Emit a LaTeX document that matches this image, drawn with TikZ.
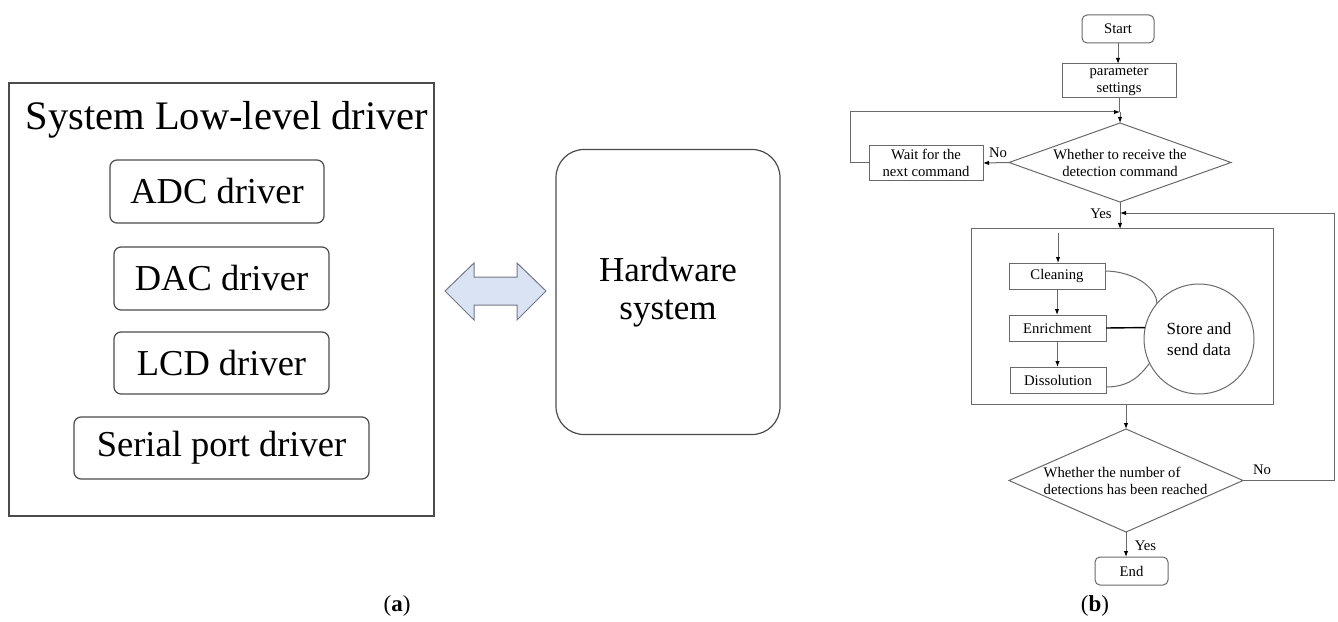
\documentclass[tikz,border=0pt]{standalone}
\usepackage{fontspec}
\setmainfont{Liberation Serif}
\usetikzlibrary{arrows.meta,shapes.geometric,calc}
\definecolor{lnA}{RGB}{75,75,75}
\definecolor{lnB}{RGB}{105,105,105}
\definecolor{arrfill}{RGB}{218,227,243}
\definecolor{arrdraw}{RGB}{115,120,135}
\begin{document}
\begin{tikzpicture}[x=1bp,y=-1bp,
  drvbox/.style={draw=lnA, line width=1.2bp, rounded corners=7bp, inner sep=0, outer sep=0,
                 font=\fontsize{36.5bp}{40bp}\selectfont},
  fbox/.style={draw=lnB, line width=1bp, inner sep=0, outer sep=0, align=center,
               font=\fontsize{14.7bp}{17bp}\selectfont},
  fround/.style={fbox, rounded corners=5bp},
  fdia/.style={draw=lnB, line width=1bp, diamond, inner sep=0, outer sep=0},
  flabel/.style={inner sep=0, font=\fontsize{14.7bp}{17bp}\selectfont},
  fline/.style={draw=lnB, line width=1bp},
  farrow/.style={fline, -{Latex[length=6bp,width=4.5bp,color=black]}},
  caption/.style={inner sep=0, font=\fontsize{23bp}{25bp}\selectfont}
]
\useasboundingbox (0,0) rectangle (1338,622);

% ---------------- panel (a) ----------------
\node[draw=lnA, line width=1.4bp, minimum width=425bp, minimum height=433bp, inner sep=0] (sysbox) at (221.5,299.5) {};
\node[anchor=base, inner sep=0, font=\fontsize{40.5bp}{44bp}\selectfont] (systitle) at (227,130) {System Low-level driver};
\node[drvbox, minimum width=214bp, minimum height=63bp] (adc) at (217,191.5) {ADC driver};
\node[drvbox, minimum width=215bp, minimum height=63bp] (dac) at (221.5,278.5) {DAC driver};
\node[drvbox, minimum width=215bp, minimum height=62bp] (lcd) at (221.5,363) {LCD driver};
\node[drvbox, minimum width=295bp, minimum height=62bp] (ser) at (221.5,448) {Serial port driver};

\node[draw=lnA, line width=1.2bp, rounded corners=28bp, minimum width=224bp, minimum height=285bp,
      align=center, inner sep=0, font=\fontsize{35bp}{38bp}\selectfont] (hw) at (668,292) {Hardware\\system};

\draw[draw=arrdraw, fill=arrfill, line width=1bp, line join=miter]
  (445,291) -- (474,263) -- (474,277) -- (517,277) -- (517,263) -- (546,291)
  -- (517,320) -- (517,305) -- (474,305) -- (474,320) -- cycle;

\node[caption] (capa) at (397,606) {(\textbf{a})};

% ---------------- panel (b) ----------------
\node[fround, minimum width=72bp, minimum height=28bp] (start) at (1118,29) {Start};
\node[fbox, minimum width=114bp, minimum height=34bp] (param) at (1119,81) {parameter\\settings};
\node[fdia, minimum width=222bp, minimum height=79bp] (d1) at (1120,162.5) {};
\node[flabel, align=center] (d1t) at (1120,163) {Whether to receive the\\detection command};
\node[fbox, minimum width=114bp, minimum height=34bp] (wait) at (926,163) {Wait for the\\next command};

\node[fbox, minimum width=302bp, minimum height=175bp] (big) at (1122,316.5) {};
\node[fbox, minimum width=96bp, minimum height=26bp] (cl) at (1057,276) {Cleaning};
\node[fbox, minimum width=97bp, minimum height=26bp] (en) at (1057.5,328) {Enrichment};
\node[fbox, minimum width=96bp, minimum height=26bp] (di) at (1058,380) {Dissolution};
\node[draw=lnB, line width=1bp, circle, minimum size=110bp, inner sep=0, outer sep=0, align=center,
      font=\fontsize{17bp}{21.5bp}\selectfont] (circ) at (1199,339) {Store and\\send data};

\node[fdia, minimum width=234bp, minimum height=103bp] (d2) at (1126,480.5) {};
\node[flabel, align=left] (d2t) at (1125.5,480.5) {Whether the number of\\detections has been reached};
\node[fround, minimum width=73bp, minimum height=28bp] (end) at (1131.5,571) {End};

\node[caption] (capb) at (1095,606) {(\textbf{b})};

% connectors
\coordinate (jn) at (1120,112);
\coordinate (lpc) at (850,112);
\coordinate (rc) at (1334,213);
\coordinate (jn2) at (1120,213);
\coordinate (inS) at (1058,233);

\draw[farrow] (start.south) -- (start.south |- param.north);
\draw[fline] (param.south) -- (param.south |- jn);
\draw[farrow] (jn) -- (d1.north);
\draw[farrow] (d1.west) -- (wait.east);
\draw[farrow] (wait.west) -| (lpc) -- (jn);
\draw[farrow] (d1.south) -- (d1.south |- big.north);
\draw[farrow] (inS) -- (inS |- cl.north);
\draw[farrow] (cl.south) -- (cl.south |- en.north);
\draw[farrow] (en.south) -- (en.south |- di.north);
\draw[farrow] (d2.north |- big.south) -- (d2.north);
\draw[farrow] (d2.east) -| (rc) -- (jn2);
\draw[farrow] (d2.south) -- (d2.south |- end.north);

\draw[black, line width=1.4bp] (en.east) -- (circ.168.5);

\coordinate (a1s) at ($(cl.east)+(0,-5)$);
\coordinate (a1c1) at ($(a1s)+(27,0)$);
\coordinate (a1e) at (circ.140);
\coordinate (a1c2) at ($(a1e)+(0,-17)$);
\draw[fline] (a1s) .. controls (a1c1) and (a1c2) .. (a1e);

\coordinate (a2s) at ($(di.east)+(0,7)$);
\coordinate (a2c1) at ($(a2s)+(24,0)$);
\coordinate (a2e) at (circ.206);
\coordinate (a2c2) at ($(a2e)+(-9,12)$);
\draw[fline] (a2s) .. controls (a2c1) and (a2c2) .. (a2e);

\node[flabel] (no1) at (998,153) {No};
\node[flabel] (yes1) at (1101,214) {Yes};
\node[flabel] (no2) at (1262,470) {No};
\node[flabel] (yes2) at (1145.5,546) {Yes};
\end{tikzpicture}
\end{document}
